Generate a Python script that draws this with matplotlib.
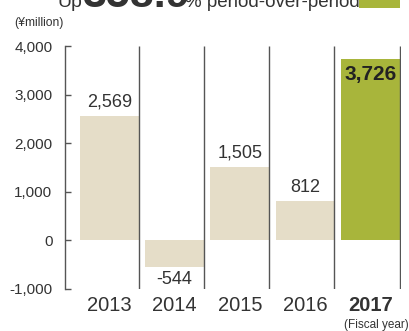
import matplotlib.pyplot as plt
from matplotlib.patches import Rectangle

plt.rcParams['font.family'] = ['Liberation Sans', 'DejaVu Sans']

# Net income by fiscal year (¥million)
years = ['2013', '2014', '2015', '2016', '2017']
values = [2569, -544, 1505, 812, 3726]
labels = ['2,569', '-544', '1,505', '812', '3,726']
yticks = [-1000, 0, 1000, 2000, 3000, 4000]
ytick_labels = ['-1,000', '0', '1,000', '2,000', '3,000', '4,000']

BEIGE = '#e5ddc8'
GREEN = '#a8b53b'
TEXT = '#333333'
LINE = '#555555'

fig = plt.figure(figsize=(4.10, 3.31), dpi=100)
ax = fig.add_axes([0.1585, 0.1269, 0.8195, 0.7341])

x = list(range(len(years)))
colors = [BEIGE] * 4 + [GREEN]
ax.bar(x, values, width=0.9, color=colors, zorder=1)

# vertical separators between years
for i in x:
    ax.plot([i + 0.45, i + 0.45], [-1000, 4000], color=LINE, lw=1.0, zorder=2,
            solid_capstyle='butt')

ax.set_xlim(-0.68, 4.47)
ax.set_ylim(-1000, 4000)

for s in ['top', 'right', 'bottom']:
    ax.spines[s].set_visible(False)
ax.spines['left'].set_color(LINE)
ax.spines['left'].set_linewidth(1.0)
ax.set_yticks(yticks)
ax.set_yticklabels(ytick_labels)
ax.tick_params(axis='y', direction='in', length=4, width=1.0, color=LINE,
               labelsize=11, labelcolor=TEXT, pad=9)
ax.set_xticks([])

# value labels
for i, (v, lab) in enumerate(zip(values, labels)):
    if i == 4:
        ax.text(i, v - 110, lab, ha='center', va='top', fontsize=15,
                fontweight='bold', color='#222222')
    elif v >= 0:
        ax.text(i, v + 110, lab, ha='center', va='bottom', fontsize=13, color=TEXT)
    else:
        ax.text(i, v - 90, lab, ha='center', va='top', fontsize=13, color=TEXT)

# year labels under the axis
for i, yr in enumerate(years):
    ax.text(i, -1140, yr, ha='center', va='top', fontsize=14.5, color=TEXT,
            fontweight='bold' if i == 4 else 'normal')

fig.text(0.034, 0.931, '(¥million)', fontsize=8.7, color=TEXT, va='center')
fig.text(0.84, 0.018, '(Fiscal year)', fontsize=8.5, color=TEXT, va='center')

# headline, running off the top edge
fig.text(0.14, 0.979, 'Up', fontsize=14, color=TEXT, va='baseline')
fig.text(0.20, 0.979, '358.9', fontsize=31, fontweight='bold', color=TEXT,
         va='baseline')
fig.text(0.452, 0.979, '% period-over-period', fontsize=13.5, color=TEXT,
         va='baseline')
fig.patches.append(Rectangle((0.876, 0.976), 0.1, 0.05, transform=fig.transFigure,
                             facecolor=GREEN, edgecolor='none'))

fig.savefig('out.png', dpi=100)
